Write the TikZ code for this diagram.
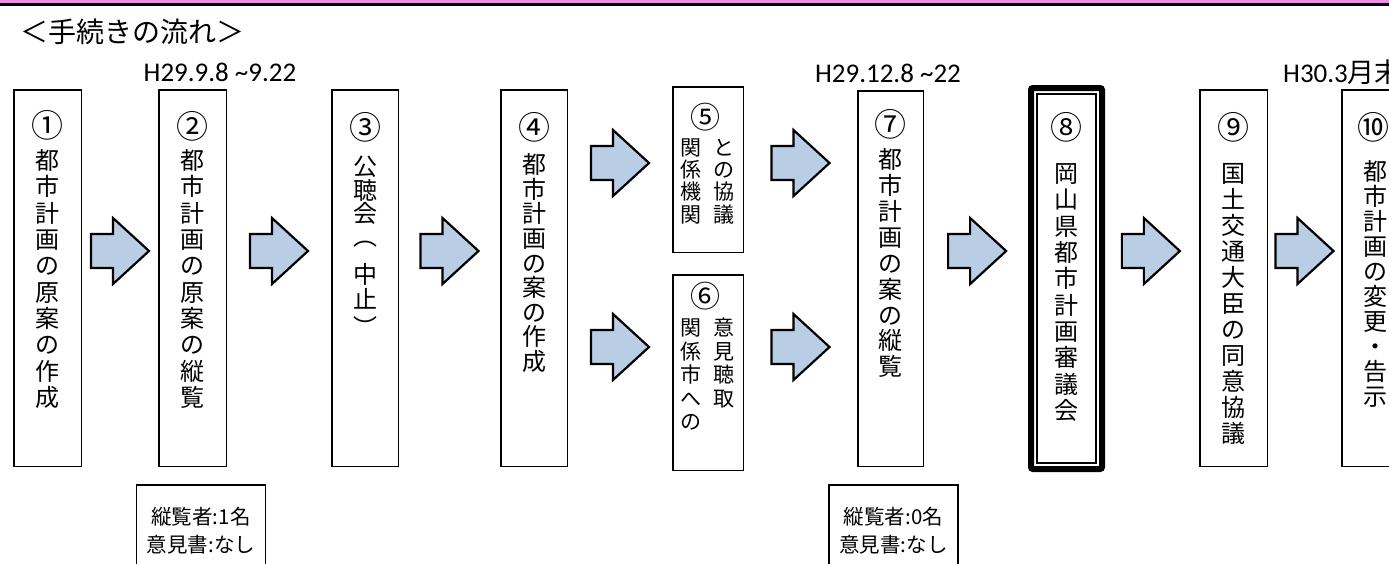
\documentclass[tikz,border=0pt]{standalone}
\usepackage{fontspec}
\setmainfont{Carlito}
\newfontfamily\jp{Noto Sans CJK JP}
\usetikzlibrary{calc}
\definecolor{arrowfill}{HTML}{B9CDE5}
\definecolor{topband}{HTML}{F08CF0}
\tikzset{
  box/.style={draw, line width=1.5pt, inner sep=0pt, outer sep=0pt},
  bigbox/.style={draw, line width=6pt, rounded corners=2pt, inner sep=0pt, outer sep=0pt},
  vch/.style={font=\jp\fontsize{24}{24}\selectfont, inner sep=0pt, text height=20.6pt, text depth=3.4pt},
  vchs/.style={font=\jp\fontsize{21}{21}\selectfont, inner sep=0pt, text height=18pt, text depth=3pt},
  circ/.style={font=\jp\fontsize{32}{32}\selectfont, inner sep=0pt, text height=27.5pt, text depth=4.5pt},
  circs/.style={font=\jp\fontsize{30}{30}\selectfont, inner sep=0pt, text height=25.8pt, text depth=4.2pt},
  datelabel/.style={font=\fontsize{27}{27}\selectfont, inner sep=0pt},
  titlestyle/.style={font=\jp\fontsize{28}{28}\selectfont, inner sep=0pt},
  notebox/.style={draw, line width=1.3pt, inner sep=0pt, outer sep=0pt},
  notetext/.style={font=\jp\fontsize{20.5}{20.5}\selectfont, inner sep=0pt},
  blockarrow/.style={draw, line width=2.2pt, fill=arrowfill, line join=miter},
}
\newcommand\flowbox[6][box]{\node[#1, minimum width={#5-#3}, minimum height={#6-#4}] (#2) at ({(#3+#5)/2},{(#4+#6)/2}) {};}
\newcommand\vtext[6]{\foreach \ch [count=\i] in {#6} {\node[#1] (#2-\i) at (#3,{#4+(\i-1)*#5}) {\ch};}}
\newcommand\blockarr[1]{\draw[blockarrow] ($(#1)+(-29,-17)$) -- ++(22,0) -- ++(0,-16) -- ++(36,33) -- ++(-36,33) -- ++(0,-16) -- ++(-22,0) -- cycle;}
\begin{document}
\begin{tikzpicture}[x=1pt,y=-1pt]
\useasboundingbox (0,0) rectangle (1389,563);
\fill[white] (0,0) rectangle (1389,563);
% top band
\fill[topband] (0,0) rectangle (1389,3);
\fill[black] (0,3) rectangle (1389,5.7);
% title
\node[titlestyle, anchor=west] (title) at (20,32) {＜手続きの流れ＞};
% boxes
\flowbox{b1}{13.75}{89.75}{81.25}{466.25}
\flowbox{b2}{158.75}{89.75}{226.25}{466.25}
\flowbox{b3}{331.75}{89.75}{398.25}{466.25}
\flowbox{b4}{500.75}{89.75}{567.25}{466.25}
\flowbox{b5}{672.75}{86.75}{743.25}{252.25}
\flowbox{b6}{672.75}{274.75}{743.25}{470.25}
\flowbox{b7}{857.75}{90.75}{923.25}{466.25}
\flowbox[bigbox]{b8}{1031}{88}{1102}{469}
\draw[line width=1.5pt] ([shift={(6,6)}]b8.north west) rectangle ([shift={(-6,-6)}]b8.south east);
\flowbox{b9}{1199.75}{89.75}{1267.25}{466.25}
\flowbox{b10}{1341.75}{89.75}{1409.25}{466.25}
% vertical texts
\node[circ] (n1) at (47.5,126) {①};
\vtext{vch}{t1}{47.5}{161}{26.3}{都,市,計,画,の,原,案,の,作,成}
\node[circ] (n2) at (192.5,127) {②};
\vtext{vch}{t2}{192.5}{161}{26.3}{都,市,計,画,の,原,案,の,縦,覧}
\node[circ] (n3) at (365,128) {③};
\node[vch] (t3-1) at (365,167) {公};
\node[vch] (t3-2) at (365,190.5) {聴};
\node[vch] (t3-3) at (365,213.5) {会};
\node[vch] (t3-4) at (365,237) {︵};
\node[vch] (t3-5) at (365,275) {中};
\node[vch] (t3-6) at (365,300) {止};
\node[vch] (t3-7) at (365,328) {︶};
\node[circ] (n4) at (534,127.5) {④};
\vtext{vch}{t4}{534}{165}{24.6}{都,市,計,画,の,案,の,作,成}
\node[circs] (n5) at (705,118) {⑤};
\vtext{vchs}{t5l}{691}{148}{22.2}{関,係,機,関}
\vtext{vchs}{t5r}{724}{148}{22.2}{と,の,協,議}
\node[circs] (n6) at (705,297) {⑥};
\vtext{vchs}{t6l}{691}{328}{23.5}{関,係,市,へ,の}
\vtext{vchs}{t6r}{724}{328}{23.5}{意,見,聴,取}
\node[circ] (n7) at (890.5,125) {⑦};
\vtext{vch}{t7}{890.5}{160}{25.9}{都,市,計,画,の,案,の,縦,覧}
\node[circ] (n8) at (1066.5,128) {⑧};
\vtext{vch}{t8}{1066.5}{174}{26.3}{岡,山,県,都,市,計,画,審,議,会}
\node[circ] (n9) at (1233.5,128) {⑨};
\vtext{vch}{t9}{1233.5}{174}{26}{国,土,交,通,大,臣,の,同,意,協,議}
\node[circ] (n10) at (1373,128) {⑩};
\vtext{vch}{t10}{1375}{172}{25}{都,市,計,画,の,変,更,・,告,示}
% arrows
\coordinate (ymain) at (0,251);
\coordinate (ytop) at (0,163);
\coordinate (ybot) at (0,347);
\coordinate (m12) at ($(b1.east)!0.5!(b2.west)$);
\coordinate (m23) at ($(b2.east)!0.5!(b3.west)$);
\coordinate (m34) at ($(b3.east)!0.5!(b4.west)$);
\coordinate (m45) at ($(b4.east)!0.5!(b5.west)$);
\coordinate (m46) at ($(b4.east)!0.5!(b6.west)$);
\coordinate (m57) at ($(b5.east)!0.5!(b7.west)$);
\coordinate (m67) at ($(b6.east)!0.5!(b7.west)$);
\coordinate (m78) at ($(b7.east)!0.5!(b8.west)$);
\coordinate (m89) at ($(b8.east)!0.5!(b9.west)$);
\coordinate (m910) at ($(b9.east)!0.5!(b10.west)$);
\blockarr{m12 |- ymain}
\blockarr{m23 |- ymain}
\blockarr{m34 |- ymain}
\blockarr{m45 |- ytop}
\blockarr{m46 |- ybot}
\blockarr{m57 |- ytop}
\blockarr{m67 |- ybot}
\blockarr{m78 |- ymain}
\blockarr{m89 |- ymain}
\blockarr{m910 |- ymain}
% dates
\node[datelabel] (d1) at (220,72) {H29.9.8 \textasciitilde9.22};
\node[datelabel] (d2) at (888,73) {H29.12.8 \textasciitilde22};
\node[datelabel, anchor=west] (d3) at (1283,72) {H30.3{\jp 月末}};
% notes
\node[notebox, minimum width=129, minimum height=110, anchor=north] (nb1) at (201,485) {};
\node[notetext] (nb1a) at (201,517) {縦覧者:1名};
\node[notetext] (nb1b) at (201,545) {意見書:なし};
\node[notebox, minimum width=129, minimum height=110, anchor=north] (nb2) at (893.5,485) {};
\node[notetext] (nb2a) at (893.5,517) {縦覧者:0名};
\node[notetext] (nb2b) at (893.5,545) {意見書:なし};
\end{tikzpicture}
\end{document}
